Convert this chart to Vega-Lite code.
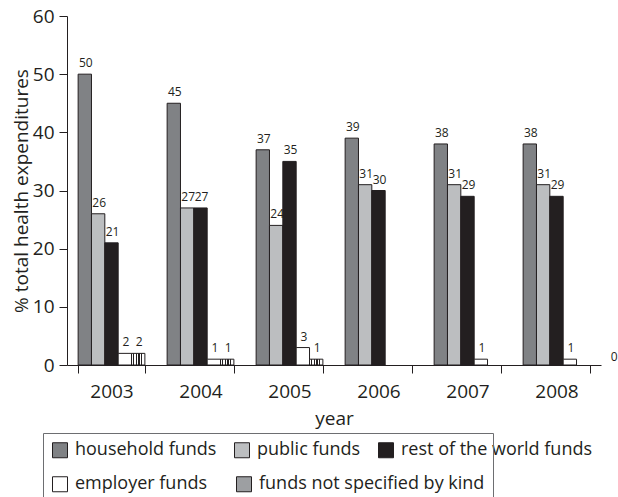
{
  "$schema": "https://vega.github.io/schema/vega-lite/v6.json",
  "width": 534,
  "height": 349,
  "autosize": {"type": "none"},
  "padding": {"left": 67, "top": 16, "right": 17, "bottom": 132},
  "background": "white",
  "config": {
    "font": "Open Sans",
    "view": {"stroke": null},
    "axis": {
      "domainColor": "#231f20",
      "tickColor": "#231f20",
      "labelColor": "#231f20",
      "titleColor": "#231f20",
      "titleFontWeight": "normal",
      "labelFont": "Open Sans",
      "titleFont": "Open Sans",
      "grid": false
    }
  },
  "data": {
    "values": [
      {"year": "2003", "kind": "household funds", "value": 50},
      {"year": "2003", "kind": "public funds", "value": 26},
      {"year": "2003", "kind": "rest of the world funds", "value": 21},
      {"year": "2003", "kind": "employer funds", "value": 2},
      {"year": "2003", "kind": "funds not specified by kind", "value": 2},
      {"year": "2004", "kind": "household funds", "value": 45},
      {"year": "2004", "kind": "public funds", "value": 27},
      {"year": "2004", "kind": "rest of the world funds", "value": 27},
      {"year": "2004", "kind": "employer funds", "value": 1},
      {"year": "2004", "kind": "funds not specified by kind", "value": 1},
      {"year": "2005", "kind": "household funds", "value": 37},
      {"year": "2005", "kind": "public funds", "value": 24},
      {"year": "2005", "kind": "rest of the world funds", "value": 35},
      {"year": "2005", "kind": "employer funds", "value": 3},
      {"year": "2005", "kind": "funds not specified by kind", "value": 1},
      {"year": "2006", "kind": "household funds", "value": 39},
      {"year": "2006", "kind": "public funds", "value": 31},
      {"year": "2006", "kind": "rest of the world funds", "value": 30},
      {"year": "2007", "kind": "household funds", "value": 38},
      {"year": "2007", "kind": "public funds", "value": 31},
      {"year": "2007", "kind": "rest of the world funds", "value": 29},
      {"year": "2007", "kind": "employer funds", "value": 1},
      {"year": "2008", "kind": "household funds", "value": 38},
      {"year": "2008", "kind": "public funds", "value": 31},
      {"year": "2008", "kind": "rest of the world funds", "value": 29},
      {"year": "2008", "kind": "employer funds", "value": 1},
      {"year": "2008", "kind": "funds not specified by kind", "value": 0}
    ]
  },
  "encoding": {
    "x": {
      "field": "year",
      "type": "nominal",
      "scale": {"paddingInner": 0.25, "paddingOuter": 0.125},
      "axis": {
        "title": "year",
        "labelAngle": 0,
        "tickBand": "extent",
        "tickSize": 8,
        "labelFontSize": 19,
        "titleFontSize": 19,
        "labelPadding": 9,
        "titlePadding": 8
      }
    },
    "xOffset": {
      "field": "kind",
      "type": "nominal",
      "sort": ["household funds", "public funds", "rest of the world funds", "employer funds", "funds not specified by kind"],
      "scale": {"domain": ["household funds", "public funds", "rest of the world funds", "employer funds", "funds not specified by kind"], "paddingInner": 0, "paddingOuter": 0}
    },
    "y": {
      "field": "value",
      "type": "quantitative",
      "scale": {"domain": [0, 60]},
      "axis": {
        "title": "% total health expenditures",
        "values": [0, 10, 20, 30, 40, 50, 60],
        "tickSize": 8,
        "labelFontSize": 19,
        "titleFontSize": 19,
        "labelPadding": 5,
        "titlePadding": 1
      }
    }
  },
  "layer": [
    {
      "transform": [{"filter": "datum.value > 0 && indexof(['household funds','public funds','rest of the world funds'], datum.kind) >= 0"}],
      "mark": {"type": "bar", "stroke": "#231f20", "strokeWidth": 1},
      "encoding": {
        "color": {
          "field": "kind",
          "type": "nominal",
          "scale": {
            "domain": ["household funds", "public funds", "rest of the world funds"],
            "range": ["#808285", "#bcbec0", "#231f20"]
          },
          "legend": {
            "title": null,
            "orient": "none",
            "legendX": -16,
            "legendY": 425,
            "direction": "horizontal",
            "columns": 3,
            "symbolType": "square",
            "symbolSize": 225,
            "symbolStrokeColor": "#231f20",
            "symbolStrokeWidth": 1,
            "symbolOpacity": 1,
            "labelFontSize": 18,
            "labelFont": "Open Sans",
            "labelColor": "#231f20",
            "labelOffset": 6,
            "labelLimit": 400,
            "labelExpr": "datum.label == 'rest of the world funds' ? '\u00a0' + datum.label : datum.label",
            "columnPadding": 15,
            "padding": 0
          }
        }
      }
    },
    {
      "transform": [{"filter": "datum.value > 0 && datum.kind == 'employer funds'"}],
      "mark": {"type": "bar", "stroke": "#231f20", "strokeWidth": 1},
      "encoding": {
        "fill": {
          "field": "kind",
          "type": "nominal",
          "scale": {
            "domain": ["employer funds", "funds not specified by kind"],
            "range": ["#ffffff", "#9d9fa2"]
          },
          "legend": {
            "title": "\u00a0\u00a0\u00a0\u00a0\u00a0\u00a0\u00a0\u00a0\u00a0\u00a0\u00a0\u00a0\u00a0\u00a0\u00a0\u00a0\u00a0\u00a0\u00a0\u00a0\u00a0\u00a0\u00a0\u00a0\u00a0\u00a0\u00a0\u00a0\u00a0\u00a0\u00a0\u00a0\u00a0\u00a0\u00a0\u00a0\u00a0\u00a0\u00a0\u00a0\u00a0\u00a0\u00a0\u00a0\u00a0\u00a0\u00a0\u00a0\u00a0\u00a0\u00a0\u00a0\u00a0\u00a0\u00a0\u00a0\u00a0\u00a0\u00a0\u00a0\u00a0\u00a0\u00a0\u00a0\u00a0\u00a0\u00a0\u00a0\u00a0\u00a0\u00a0\u00a0\u00a0\u00a0\u00a0\u00a0\u00a0\u00a0\u00a0\u00a0\u00a0\u00a0\u00a0\u00a0\u00a0\u00a0\u00a0\u00a0\u00a0\u00a0\u00a0\u00a0\u00a0\u00a0\u00a0\u00a0\u00a0\u00a0\u00a0\u00a0\u00a0\u00a0\u00a0\u00a0\u00a0\u00a0\u00a0\u00a0\u00a0\u00a0\u00a0\u00a0\u00a0\u00a0\u00a0\u00a0\u00a0\u00a0\u00a0\u00a0\u00a0\u00a0\u00a0\u00a0\u00a0\u00a0\u00a0\u00a0\u00a0\u00a0\u00a0\u00a0\u00a0\u00a0\u00a0\u00a0\u00a0\u00a0\u00a0\u00a0\u00a0\u00a0\u00a0\u00a0",
            "titleFontSize": 18,
            "titleLimit": 0,
            "titlePadding": 16,
            "orient": "none",
            "legendX": -24,
            "legendY": 417,
            "direction": "horizontal",
            "columns": 2,
            "symbolType": "square",
            "symbolSize": 225,
            "symbolStrokeColor": "#231f20",
            "symbolStrokeWidth": 1,
            "symbolOpacity": 1,
            "labelFontSize": 18,
            "labelFont": "Open Sans",
            "labelColor": "#231f20",
            "labelOffset": 6,
            "labelLimit": 400,
            "columnPadding": 26,
            "padding": 8,
            "strokeColor": "#6d6e71",
            "encode": {
              "symbols": {
                "update": {
                  "stroke": {"value": "#231f20"},
                  "strokeWidth": {"value": 1},
                  "opacity": {"value": 1},
                  "fill": [
                    {"test": "datum.value === 'funds not specified by kind'", "value": {"gradient": "linear", "x1": 0, "y1": 0, "x2": 1, "y2": 0, "stops": [
                      {"offset": 0, "color": "#ffffff"}, {"offset": 0.1, "color": "#ffffff"}, {"offset": 0.1, "color": "#231f20"}, {"offset": 0.2, "color": "#231f20"},
                      {"offset": 0.2, "color": "#ffffff"}, {"offset": 0.3, "color": "#ffffff"}, {"offset": 0.3, "color": "#231f20"}, {"offset": 0.4, "color": "#231f20"},
                      {"offset": 0.4, "color": "#ffffff"}, {"offset": 0.5, "color": "#ffffff"}, {"offset": 0.5, "color": "#231f20"}, {"offset": 0.6, "color": "#231f20"},
                      {"offset": 0.6, "color": "#ffffff"}, {"offset": 0.7, "color": "#ffffff"}, {"offset": 0.7, "color": "#231f20"}, {"offset": 0.8, "color": "#231f20"},
                      {"offset": 0.8, "color": "#ffffff"}, {"offset": 1, "color": "#ffffff"}
                    ]}},
                    {"value": "#ffffff"}
                  ]
                }
              }
            }
          }
        }
      }
    },
    {
      "transform": [{"filter": "datum.value > 0 && datum.kind == 'funds not specified by kind'"}],
      "mark": {"type": "bar", "stroke": "#231f20", "strokeWidth": 1, "fill": {"gradient": "linear", "x1": 0, "y1": 0, "x2": 1, "y2": 0, "stops": [
        {"offset": 0, "color": "#ffffff"}, {"offset": 0.1, "color": "#ffffff"}, {"offset": 0.1, "color": "#231f20"}, {"offset": 0.2, "color": "#231f20"},
        {"offset": 0.2, "color": "#ffffff"}, {"offset": 0.3, "color": "#ffffff"}, {"offset": 0.3, "color": "#231f20"}, {"offset": 0.4, "color": "#231f20"},
        {"offset": 0.4, "color": "#ffffff"}, {"offset": 0.5, "color": "#ffffff"}, {"offset": 0.5, "color": "#231f20"}, {"offset": 0.6, "color": "#231f20"},
        {"offset": 0.6, "color": "#ffffff"}, {"offset": 0.7, "color": "#ffffff"}, {"offset": 0.7, "color": "#231f20"}, {"offset": 0.8, "color": "#231f20"},
        {"offset": 0.8, "color": "#ffffff"}, {"offset": 1, "color": "#ffffff"}
      ]}}
    },
    {
      "transform": [{"filter": "!(datum.year == '2008' && datum.kind == 'funds not specified by kind')"}],
      "mark": {"type": "text", "baseline": "alphabetic", "dy": -7, "dx": 1, "fontSize": 12, "color": "#231f20"},
      "encoding": {"text": {"field": "value", "type": "quantitative"}}
    },
    {
      "transform": [{"filter": "datum.year == '2008' && datum.kind == 'funds not specified by kind'"}],
      "mark": {"type": "text", "baseline": "alphabetic", "dy": -4, "dx": 31, "fontSize": 12, "color": "#231f20"},
      "encoding": {"text": {"field": "value", "type": "quantitative"}}
    }
  ]
}
